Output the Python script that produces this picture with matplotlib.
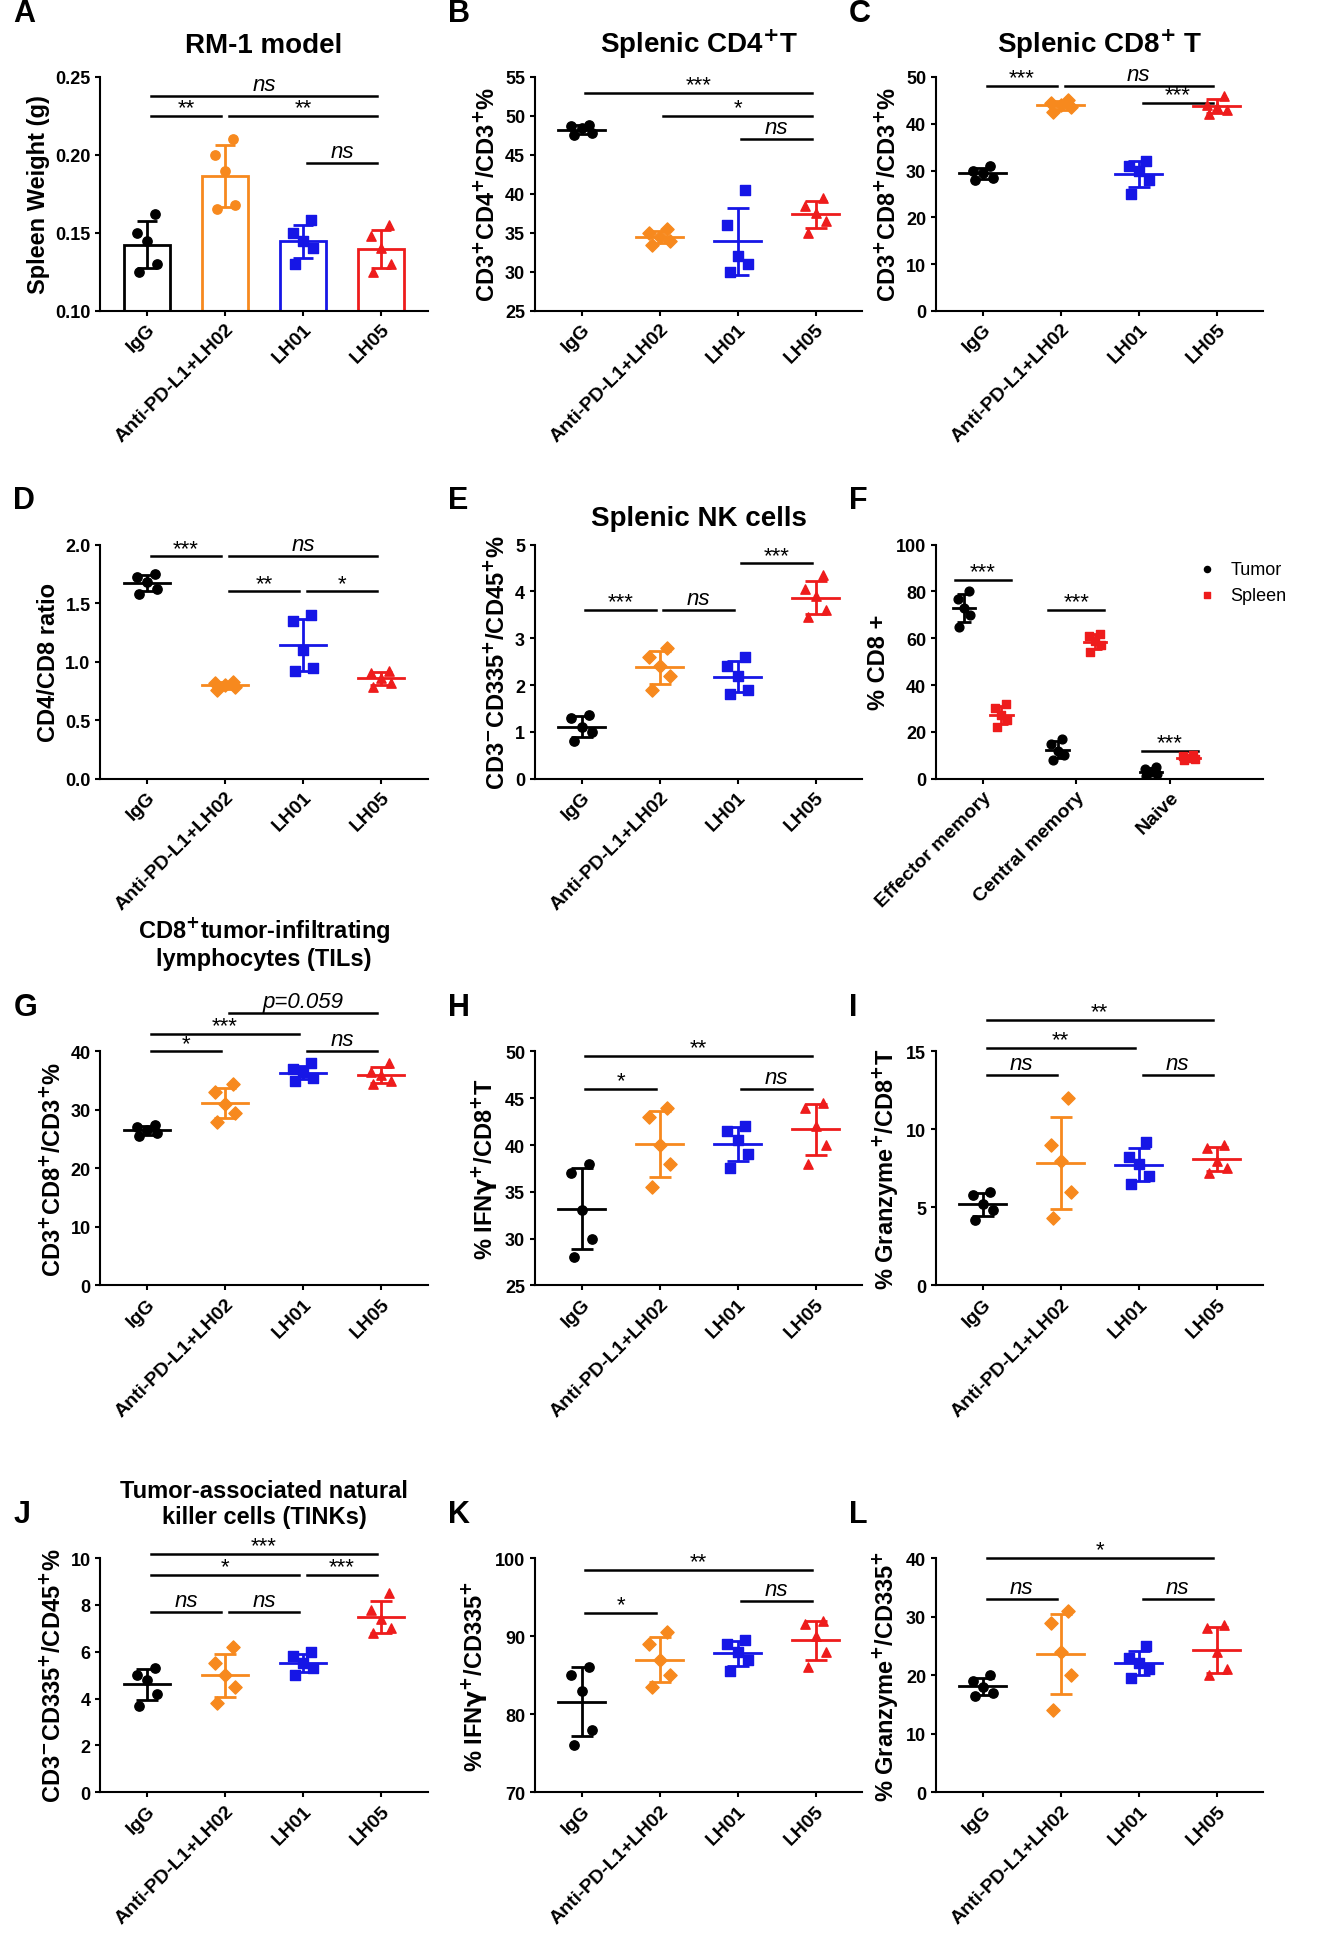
import matplotlib.pyplot as plt
import numpy as np

plt.rcParams['font.family'] = ['Liberation Sans', 'DejaVu Sans']
plt.rcParams['font.weight'] = 'bold'
plt.rcParams['axes.labelweight'] = 'bold'
plt.rcParams['mathtext.default'] = 'bf'

groups = ['IgG', 'Anti-PD-L1+LH02', 'LH01', 'LH05']
colors = ['black', '#F7891E', '#1616E6', '#EE1C1C']
markers = ['o', 'D', 's', '^']

# panel data: points per group
A = [[0.125, 0.13, 0.145, 0.15, 0.162], [0.165, 0.168, 0.19, 0.20, 0.21],
     [0.13, 0.14, 0.145, 0.15, 0.158], [0.125, 0.13, 0.14, 0.148, 0.155]]
B = [[47.5, 47.8, 48.5, 48.7, 48.8], [33.5, 34, 34.5, 35, 35.5],
     [30, 31, 32, 36, 40.5], [35, 36.5, 37.5, 38.5, 39.5]]
C = [[28, 28.5, 29.5, 30, 31], [42.5, 43.5, 44, 44.5, 45],
     [25, 28, 30, 31, 32], [42, 43, 43.5, 44, 46]]
D = [[1.58, 1.62, 1.68, 1.72, 1.75], [0.76, 0.78, 0.8, 0.82, 0.83],
     [0.92, 0.95, 1.1, 1.35, 1.4], [0.78, 0.82, 0.86, 0.9, 0.92]]
E = [[0.8, 1.0, 1.1, 1.3, 1.35], [1.9, 2.2, 2.4, 2.6, 2.8],
     [1.8, 1.9, 2.2, 2.4, 2.6], [3.45, 3.6, 3.9, 4.05, 4.35]]
F_cats = ['Effector memory', 'Central memory', 'Naive']
F_tumor = [[65, 70, 73, 77, 80], [8, 10, 12, 15, 17], [1, 2, 3, 4, 5]]
F_spleen = [[22, 25, 27, 30, 32], [54, 57, 59, 61, 62], [8, 8.5, 9, 9.5, 10]]
G = [[25.5, 26, 26.5, 27, 27.5], [28, 29.5, 31, 33, 34.5],
     [35, 35.5, 36.5, 37, 38], [34.5, 35, 36, 36.5, 38]]
H = [[28, 30, 33, 37, 38], [35.5, 38, 40, 43, 44],
     [37.5, 39, 40.5, 41.5, 42], [38, 40, 42, 44, 44.5]]
I = [[4.2, 4.8, 5.2, 5.8, 6], [4.3, 6, 8, 9, 12],
     [6.5, 7, 7.8, 8.2, 9.2], [7.2, 7.5, 8, 8.8, 9]]
J = [[3.7, 4.2, 4.8, 5, 5.3], [3.8, 4.5, 5, 5.5, 6.2],
     [5, 5.3, 5.5, 5.8, 6], [6.8, 7, 7.4, 7.8, 8.5]]
K = [[76, 78, 83, 85, 86], [83.5, 85, 87, 89, 90.5],
     [85.5, 87, 88, 89, 89.5], [86, 88, 90, 91.5, 92]]
L = [[16.5, 17, 18, 19, 20], [14, 20, 24, 29, 31],
     [19.5, 21, 22, 23, 25], [20, 21, 24, 28, 28.5]]

# significance brackets: (i, j, y, text)
sigA = [(0, 1, 0.225, '**'), (0, 3, 0.238, 'ns'), (1, 3, 0.225, '**'), (2, 3, 0.195, 'ns')]
sigB = [(0, 3, 53, '***'), (1, 3, 50, '*'), (2, 3, 47, 'ns')]
sigC = [(0, 1, 48, '***'), (1, 3, 48, 'ns'), (2, 3, 44.5, '***')]
sigD = [(0, 1, 1.9, '***'), (1, 3, 1.9, 'ns'), (1, 2, 1.6, '**'), (2, 3, 1.6, '*')]
sigE = [(0, 1, 3.6, '***'), (1, 2, 3.6, 'ns'), (2, 3, 4.6, '***')]
sigG = [(0, 1, 40, '*'), (0, 2, 43, '***'), (1, 3, 46.5, 'p=0.059'), (2, 3, 40, 'ns')]
sigH = [(0, 1, 46, '*'), (0, 3, 49.5, '**'), (2, 3, 46, 'ns')]
sigI = [(0, 1, 13.5, 'ns'), (0, 2, 15.2, '**'), (0, 3, 17, '**'), (2, 3, 13.5, 'ns')]
sigJ = [(0, 3, 10.2, '***'), (0, 2, 9.3, '*'), (2, 3, 9.3, '***'), (0, 1, 7.7, 'ns'), (1, 2, 7.7, 'ns')]
sigK = [(0, 1, 93, '*'), (0, 3, 98.5, '**'), (2, 3, 94.5, 'ns')]
sigL = [(0, 1, 33, 'ns'), (0, 3, 40, '*'), (2, 3, 33, 'ns')]

jit = np.array([-0.1, 0.13, 0.0, -0.13, 0.1])


def style(ax, ylim, yticks, ylabel, xlabels):
    ax.spines['top'].set_visible(False)
    ax.spines['right'].set_visible(False)
    ax.spines['left'].set_linewidth(1.5)
    ax.spines['bottom'].set_linewidth(1.5)
    ax.set_ylim(*ylim)
    ax.set_yticks(yticks)
    ax.tick_params(width=1.5, labelsize=13)
    ax.set_ylabel(ylabel, fontsize=17)
    ax.set_xticks(range(len(xlabels)))
    ax.set_xticklabels(xlabels, rotation=45, ha='right', rotation_mode='anchor', fontsize=14)


def sig(ax, items, ylim):
    h = ylim[1] - ylim[0]
    for i, j, y, t in items:
        ax.plot([i + 0.05, j - 0.05], [y, y], color='black', lw=1.8, clip_on=False)
        st = 'italic' if t.startswith(('n', 'p')) else 'normal'
        ax.text((i + j) / 2, y + (0.005 if st == 'italic' else -0.01) * h, t, ha='center', va='bottom',
                fontsize=16, style=st, fontweight='normal')


def scatter_panel(ax, data, ylim, yticks, ylabel, sigs, bar=False):
    for k, pts in enumerate(data):
        pts = np.array(pts)
        m, s = pts.mean(), pts.std(ddof=1)
        if bar:
            ax.bar(k, m, width=0.6, bottom=0, facecolor='white', edgecolor=colors[k], lw=2)
            ax.errorbar(k, m, yerr=s, color=colors[k], capsize=7, lw=2, capthick=2)
            mk = 'o' if k < 2 else markers[k]
        else:
            ax.plot([k - 0.3, k + 0.3], [m, m], color=colors[k], lw=2)
            ax.errorbar(k, m, yerr=s, color=colors[k], capsize=8, lw=2, capthick=2)
            mk = markers[k]
        ax.scatter(k + jit, pts, color=colors[k], marker=mk, s=45, zorder=3)
    ax.set_xlim(-0.6, 3.6)
    style(ax, ylim, yticks, ylabel, groups)
    sig(ax, sigs, ylim)


fig = plt.figure(figsize=(13.37, 19.49), dpi=100)
cols = [0.075, 0.40, 0.70]
w = 0.245
rows = [0.84, 0.60, 0.34, 0.08]
hgt = 0.12


def axes(r, c):
    return fig.add_axes([cols[c], rows[r], w, hgt])


axA = axes(0, 0)
scatter_panel(axA, A, (0.10, 0.25), [0.10, 0.15, 0.20, 0.25], 'Spleen Weight (g)', sigA, bar=True)
axA.set_ylim(0.10, 0.25)
axA.set_title('RM-1 model', fontsize=20, fontweight='bold', pad=18)

axB = axes(0, 1)
scatter_panel(axB, B, (25, 55), range(25, 56, 5), r'CD3$^{+}$CD4$^{+}$/CD3$^{+}$%', sigB)
axB.set_title(r'Splenic CD4$^{+}$T', fontsize=20, fontweight='bold', pad=18)

axC = axes(0, 2)
scatter_panel(axC, C, (0, 50), range(0, 51, 10), r'CD3$^{+}$CD8$^{+}$/CD3$^{+}$%', sigC)
axC.set_title(r'Splenic CD8$^{+}$ T', fontsize=20, fontweight='bold', pad=18)

axD = axes(1, 0)
scatter_panel(axD, D, (0, 2.0), [0, 0.5, 1.0, 1.5, 2.0], 'CD4/CD8 ratio', sigD)
axD.set_yticklabels(['0.0', '0.5', '1.0', '1.5', '2.0'])

axE = axes(1, 1)
scatter_panel(axE, E, (0, 5), range(0, 6), r'CD3$^{-}$CD335$^{+}$/CD45$^{+}$%', sigE)
axE.set_title('Splenic NK cells', fontsize=20, fontweight='bold', pad=14)

axF = axes(1, 2)
for k in range(3):
    for pts, col, mk, off, lab in [(F_tumor[k], 'black', 'o', -0.2, 'Tumor'), (F_spleen[k], '#EE1C1C', 's', 0.2, 'Spleen')]:
        pts = np.array(pts)
        m, s = pts.mean(), pts.std(ddof=1)
        x = k + off
        axF.plot([x - 0.12, x + 0.12], [m, m], color=col, lw=2)
        axF.errorbar(x, m, yerr=s, color=col, capsize=5, lw=2, capthick=2)
        axF.scatter(x + jit * 0.5, pts, color=col, marker=mk, s=40, zorder=3, label=lab if k == 0 else None)
axF.set_xlim(-0.5, 3.0)
style(axF, (0, 100), range(0, 101, 20), '% CD8 +', F_cats)
axF.legend(loc='upper right', frameon=False, handletextpad=0.3, markerscale=0.7,
           bbox_to_anchor=(1.12, 1.0), prop={'weight': 'normal', 'size': 13})
for k, y in enumerate([85, 72, 12]):
    axF.plot([k - 0.3, k + 0.3], [y, y], color='black', lw=1.8)
    axF.text(k, y - 1, '***', ha='center', va='bottom', fontsize=16, fontweight='normal')

axG = axes(2, 0)
scatter_panel(axG, G, (0, 40), range(0, 41, 10), r'CD3$^{+}$CD8$^{+}$/CD3$^{+}$%', sigG)
axG.set_title('CD8$^{+}$tumor-infiltrating\nlymphocytes (TILs)', fontsize=17, fontweight='bold', pad=62)

axH = axes(2, 1)
scatter_panel(axH, H, (25, 50), range(25, 51, 5), r'% IFN$\gamma^{+}$/CD8$^{+}$T', sigH)

axI = axes(2, 2)
scatter_panel(axI, I, (0, 15), range(0, 16, 5), r'% Granzyme$^{+}$/CD8$^{+}$T', sigI)

axJ = axes(3, 0)
scatter_panel(axJ, J, (0, 10), range(0, 11, 2), r'CD3$^{-}$CD335$^{+}$/CD45$^{+}$%', sigJ)
axJ.set_title('Tumor-associated natural\nkiller cells (TINKs)', fontsize=17, fontweight='bold', pad=25)

axK = axes(3, 1)
scatter_panel(axK, K, (70, 100), range(70, 101, 10), r'% IFN$\gamma^{+}$/CD335$^{+}$', sigK)

axL = axes(3, 2)
scatter_panel(axL, L, (0, 40), range(0, 41, 10), r'% Granzyme$^{+}$/CD335$^{+}$', sigL)

letters = 'ABCDEFGHIJKL'
for n, ax in enumerate([axA, axB, axC, axD, axE, axF, axG, axH, axI, axJ, axK, axL]):
    r, c = divmod(n, 3)
    top = rows[r] + hgt + (0.025 if r == 0 else 0.015)
    fig.text(cols[c] - 0.065, top, letters[n], fontsize=22, fontweight='bold', va='bottom')

fig.savefig('out.png', dpi=100)
